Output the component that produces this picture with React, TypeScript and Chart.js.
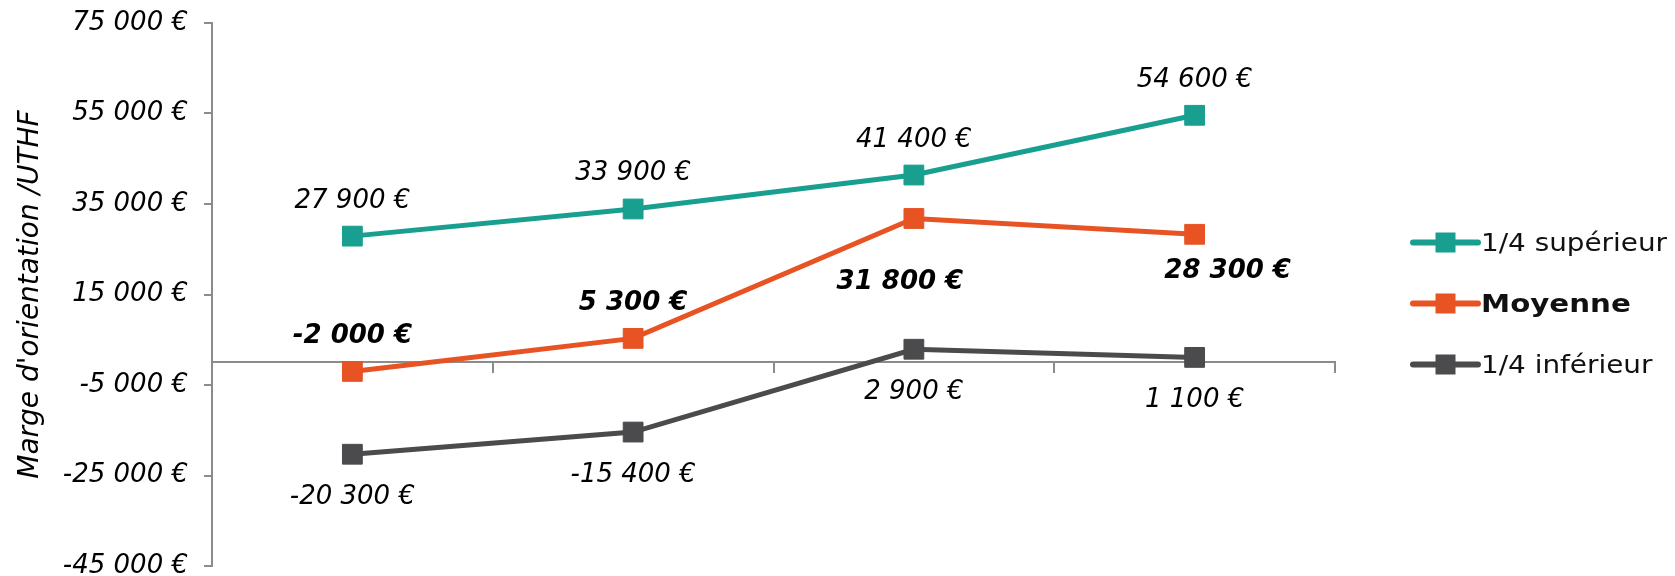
import React, { useEffect, useRef } from 'react';
import { Chart, registerables } from 'chart.js';

Chart.register(...registerables);

// ---- data ----
const categories = ['', '', '', ''];
const seriesNames = ['1/4 supérieur', 'Moyenne', '1/4 inférieur'];
const superieur = [27900, 33900, 41400, 54600];
const moyenne = [-2000, 5300, 31800, 28300];
const inferieur = [-20300, -15400, 2900, 1100];
const yMin = -45000;
const yMax = 75000;
const yStep = 20000;
const yTitle = "Marge d'orientation /UTHF";

// where each value label sits relative to its point
const superieurLabelPlacement = ['above', 'above', 'above', 'above'];
const moyenneLabelPlacement = ['above', 'above', 'belowLeft', 'belowRight'];
const inferieurLabelPlacement = ['below', 'below', 'below', 'below'];

// ---- styles ----
const TEAL = '#199f8f';
const ORANGE = '#e85324';
const GRAY = '#4b4b4d';
const AXIS = '#8c8c8c';
const NUM_FONT = '"DejaVu Sans"';

const placementOffset: Record<string, [number, number]> = {
  above: [0, -38],
  below: [0, 40],
  belowLeft: [-14, 61],
  belowRight: [33, 34],
};

function fmtEuro(v: number): string {
  const s = Math.abs(Math.round(v)).toString().replace(/\B(?=(\d{3})+(?!\d))/g, ' ');
  return (v < 0 ? '-' : '') + s + ' €';
}

const valueLabelsPlugin = {
  id: 'valueLabels',
  afterDatasetsDraw(chart: any) {
    const ctx = chart.ctx;
    chart.data.datasets.forEach((ds: any, di: number) => {
      const meta = chart.getDatasetMeta(di);
      const size = 26;
      ctx.save();
      ctx.font = `italic ${ds.labelBold ? 'bold ' : ''}${size}px ${NUM_FONT}`;
      ctx.fillStyle = '#000';
      ctx.textAlign = 'center';
      ctx.textBaseline = 'alphabetic';
      meta.data.forEach((pt: any, i: number) => {
        const off = placementOffset[ds.labelPlacement[i]] || [0, -38];
        const x = pt.x + off[0];
        const y = pt.y + off[1] + size * 0.365;
        ctx.fillText(fmtEuro(ds.data[i]), x, y);
      });
      ctx.restore();
    });
  },
};

const legendPlugin = {
  id: 'customLegend',
  afterDraw(chart: any) {
    const ctx = chart.ctx;
    const area = chart.chartArea;
    const x0 = area.right + 78;
    const lineLen = 65;
    const mid = (area.top + area.bottom) / 2 + 9;
    const spacing = 61;
    chart.data.datasets.forEach((ds: any, i: number) => {
      const y = mid + (i - 1) * spacing;
      ctx.save();
      ctx.strokeStyle = ds.borderColor;
      ctx.lineWidth = 6;
      ctx.lineCap = 'round';
      ctx.beginPath();
      ctx.moveTo(x0, y);
      ctx.lineTo(x0 + lineLen, y);
      ctx.stroke();
      ctx.fillStyle = ds.borderColor;
      ctx.fillRect(x0 + lineLen / 2 - 10, y - 10, 20, 20);
      const size = 24;
      ctx.font = `${ds.legendBold ? 'bold ' : ''}${size}px "DejaVu Sans"`;
      ctx.fillStyle = '#111';
      ctx.textAlign = 'left';
      ctx.textBaseline = 'alphabetic';
      ctx.translate(x0 + lineLen + 3, y + size * 0.365);
      ctx.scale(ds.legendBold ? 1.22 : 1.16, 1);
      ctx.fillText(ds.label, 0, 0);
      ctx.restore();
    });
  },
};

export default function App() {
  const canvasRef = useRef<HTMLCanvasElement | null>(null);

  useEffect(() => {
    if (!canvasRef.current) return;
    const mk = (label: string, data: number[], color: string, placement: string[], bold: boolean) => ({
      label,
      data,
      borderColor: color,
      backgroundColor: color,
      pointBackgroundColor: color,
      pointBorderColor: color,
      pointBorderWidth: 1,
      pointStyle: 'rect',
      pointRadius: 14,
      pointHoverRadius: 14,
      borderWidth: 5,
      tension: 0,
      fill: false,
      labelPlacement: placement,
      labelBold: bold,
      legendBold: bold,
    });
    const chart = new Chart(canvasRef.current, {
      type: 'line',
      data: {
        labels: categories,
        datasets: [
          mk(seriesNames[0], superieur, TEAL, superieurLabelPlacement, false),
          mk(seriesNames[1], moyenne, ORANGE, moyenneLabelPlacement, true),
          mk(seriesNames[2], inferieur, GRAY, inferieurLabelPlacement, false),
        ] as any,
      },
      options: {
        responsive: false,
        animation: false,
        devicePixelRatio: 1,
        layout: { autoPadding: false, padding: { left: 0, top: 23, right: 340, bottom: 10 } },
        plugins: {
          legend: { display: false },
          tooltip: { enabled: false },
        },
        scales: {
          x: {
            type: 'category',
            position: { y: 0 } as any,
            offset: true,
            grid: {
              offset: true,
              drawOnChartArea: false,
              drawTicks: true,
              tickLength: 10,
              color: AXIS,
              lineWidth: 2,
            },
            border: { display: true, color: AXIS, width: 2 },
            ticks: { display: false },
            afterFit: (scale: any) => {
              scale.height = 0;
              scale.paddingLeft = 0;
              scale.paddingRight = 0;
            },
          },
          y: {
            type: 'linear',
            position: 'left',
            min: yMin,
            max: yMax,
            ticks: {
              stepSize: yStep,
              callback: (v: any) => fmtEuro(Number(v)),
              color: '#000',
              padding: 16,
              font: { family: 'DejaVu Sans', style: 'italic', size: 26 },
            },
            grid: {
              drawOnChartArea: false,
              drawTicks: true,
              tickLength: 8,
              color: AXIS,
              lineWidth: 2,
            },
            border: { display: true, color: AXIS, width: 2 },
            title: {
              display: true,
              text: yTitle,
              color: '#000',
              padding: { top: 14, bottom: 0 },
              font: { family: 'DejaVu Sans', style: 'italic', size: 28 },
            },
            afterFit: (scale: any) => {
              scale.width = 212;
              scale.paddingTop = 0;
              scale.paddingBottom = 0;
            },
          },
        },
      } as any,
      plugins: [valueLabelsPlugin, legendPlugin],
    });
    return () => chart.destroy();
  }, []);

  return (
    <div style={{ position: 'fixed', left: 0, top: 0, width: 1675, height: 576, background: '#fff' }}>
      <canvas ref={canvasRef} width={1675} height={576} style={{ display: 'block' }} />
    </div>
  );
}
